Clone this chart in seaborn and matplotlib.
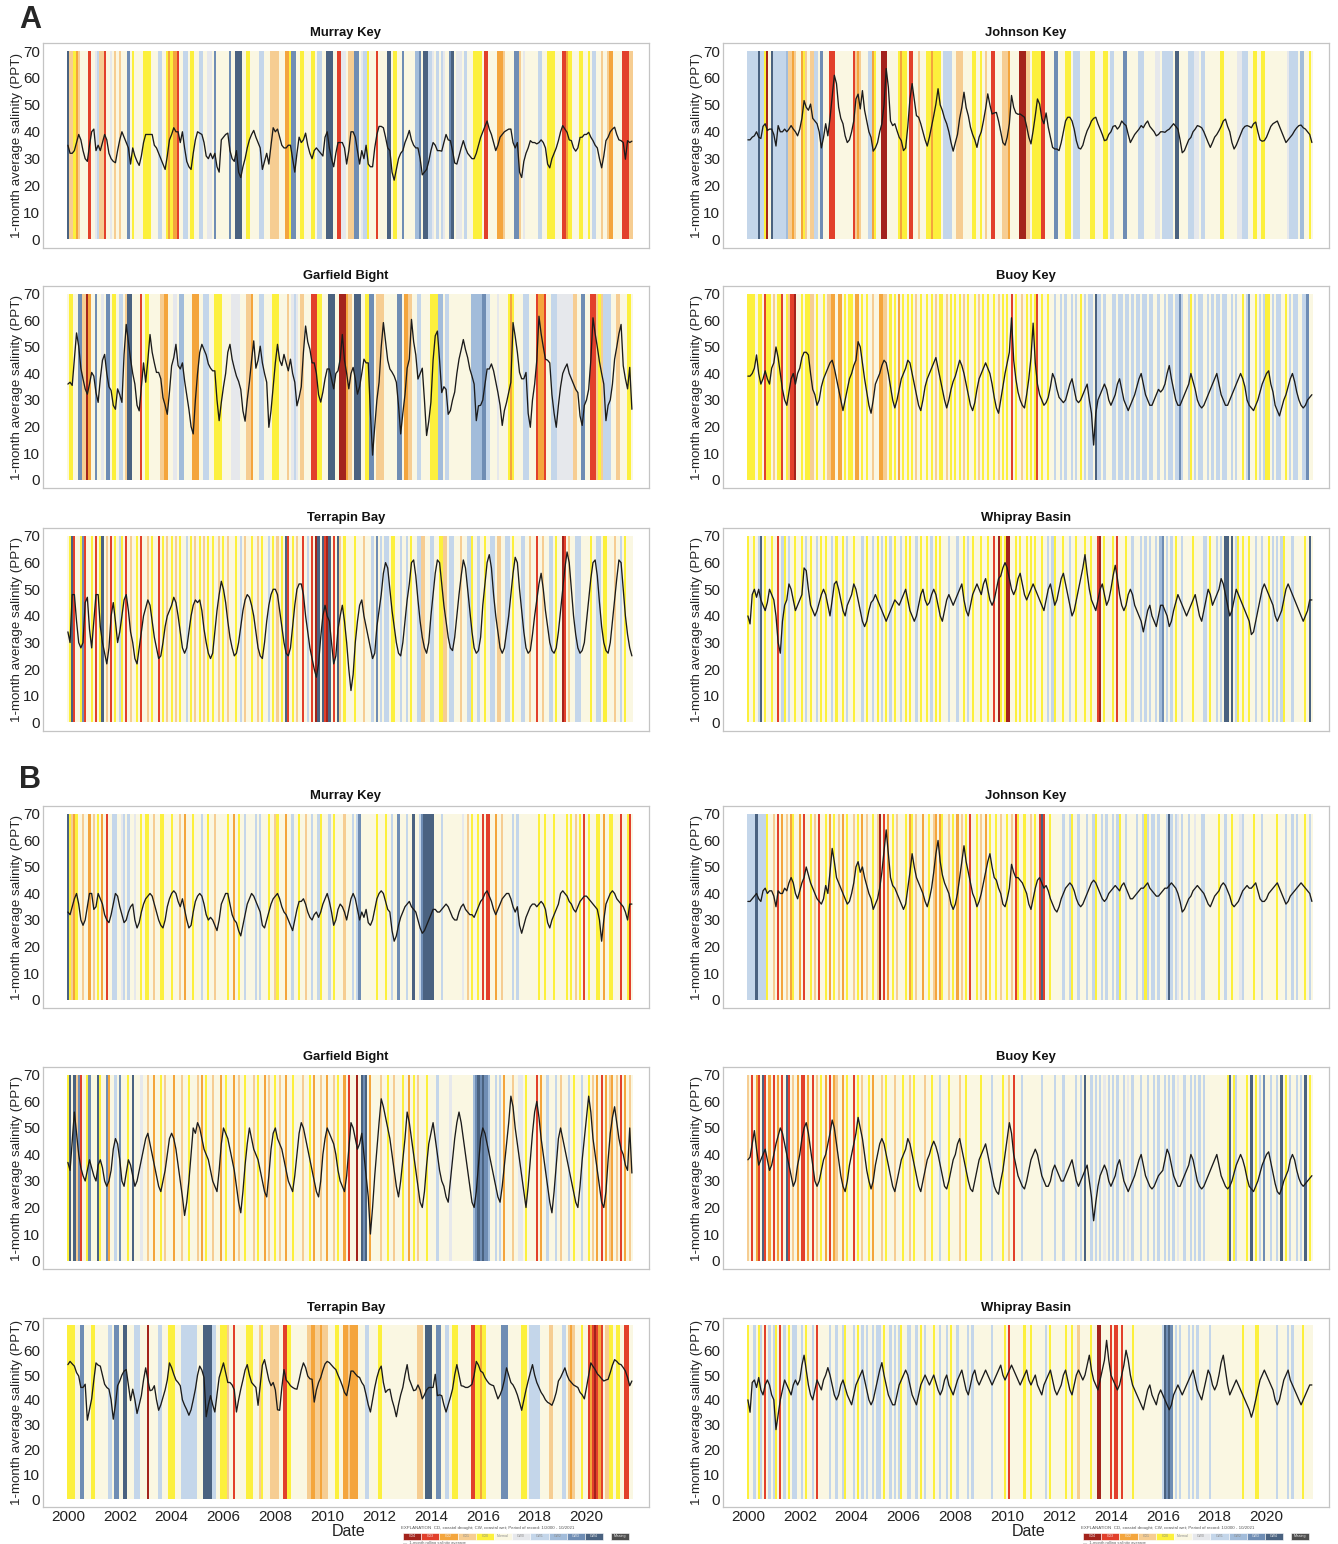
import numpy as np
import pandas as pd
import matplotlib
matplotlib.use("Agg")
import matplotlib.pyplot as plt
from matplotlib.patches import Rectangle
import seaborn as sns

sns.set_theme(style="white")
plt.rcParams["font.family"] = ["Liberation Sans", "DejaVu Sans"]

W, H, DPI = 1338, 1544, 100

# Monthly record, January 2000 through October 2021
months = pd.date_range("2000-01-01", "2021-10-01", freq="MS")
t_dec = (months.year + (months.month - 1) / 12.0).to_numpy()
N = len(months)

# Coastal drought / wet index classes
cat_codes = ["4", "3", "2", "1", "0", "n", "w", "a", "b", "c", "d", "m"]
cat_labels = ["CD4", "CD3", "CD2", "CD1", "CD0", "Normal", "CW0", "CW1", "CW2", "CW3", "CW4", "Missing"]
cat_colors = ["#A3231C", "#E2402B", "#F4A53C", "#F6CD92", "#FCF03C", "#FAF7E2",
              "#E6E8EC", "#C4D6EA", "#A2BCDA", "#6F8DB4", "#4A6280", "#4D4D4D"]

# ---------------- Panel A ----------------
murray_a_sal = [
    35, 32, 32, 33, 36, 39, 37, 33, 30, 29, 35, 40,
    41, 33, 35, 33, 36, 39, 37, 32, 30, 29, 28.5, 33,
    37, 40, 38, 36, 34, 28, 34, 31, 29, 27.5, 31, 36,
    39, 39, 39, 39, 35, 34, 32, 30, 28, 26, 31, 37,
    39, 41.5, 40, 40, 36, 40, 34, 29, 27, 26, 32, 37,
    40, 39.5, 39, 36, 31, 30, 32, 30, 32, 27, 25, 37,
    38, 39, 39.5, 33, 30, 29, 33, 25, 23, 27, 30, 34,
    37, 39, 40.5, 38, 36, 34, 26, 29, 32, 28, 35, 41.5,
    40, 41, 38, 35, 34, 34, 35, 35, 30, 25, 32, 38,
    36, 37, 39.5, 35, 32, 30, 33, 34, 33, 32, 31, 38,
    40, 34, 30, 27, 32, 36, 36, 36, 34, 28, 33, 40,
    40, 38, 33, 28, 33, 30, 35, 28, 27, 27, 34, 39,
    42, 42, 41.5, 38, 34, 33, 25, 22, 26, 30, 32, 33,
    36, 38, 40.5, 37, 35, 34, 34, 30, 24, 25, 26, 29,
    33, 36, 35, 33, 33, 32.8, 36, 39, 37, 36.7, 33, 28.4,
    28, 31, 34, 36.7, 34, 32, 31, 30, 30, 32, 35, 37.9,
    40, 42, 44, 41, 39, 36, 33, 35, 38, 39, 40, 40.5,
    41, 41, 36, 34, 36, 25, 23, 29, 32, 34, 36.7, 36,
    36, 35.5, 36, 37, 36, 34, 28, 26.6, 30, 32, 34, 36.7,
    40, 42.3, 41, 39.8, 37, 36.7, 34, 32.8, 34, 37.9, 38, 39,
    39, 39.8, 38, 36.7, 35, 34, 30, 26.6, 31, 36.7, 38, 40,
    41, 41.7, 39, 37, 36.7, 36, 29.8, 36.7, 36, 36.5,
]
murray_a_cat = """
d11021nnnn3n nwa113nnwn1n 1nnncn0nnnn0 000nnnaann02 0223nnaan00n naannwwncnnn
nnncnndddnn0 0nnnnaannn11 11nnn220ccnn 00nnn00naann dddnn33wwn11 1ccnwaa0nnn3
nnnnddn00nnc nnnnnbbcndda awnanawnncdn wwwnannn0000 n33nnnn2221n nnncc1nwnnnn
nnaann0000nn n33200nnn00n n0naann1nn12 2nnnn33311
"""

johnson_a_sal = [
    37, 37, 38, 38.5, 40, 38, 37.5, 42, 43, 40.5, 41, 41,
    39, 34.7, 42.3, 40, 40, 41, 40, 41, 42.3, 41, 40, 38.5,
    41, 45, 51.6, 49.1, 48, 50.3, 45, 44, 43, 40, 34, 37.9,
    43, 38.5, 45, 52.8, 61, 57.9, 49.1, 45, 43, 38.5, 36, 37,
    40, 44, 52.2, 54, 48.5, 55.3, 48, 44, 40, 37.9, 32.8, 34,
    36, 40, 43, 50, 63.5, 56.6, 44, 42.3, 43, 40.4, 38, 36.7,
    33, 34, 42, 52.2, 57.9, 52, 46, 45.4, 43, 40, 37, 34.7,
    38, 42, 46, 50.3, 56, 50, 47.9, 45, 43, 40, 36, 32.8,
    36, 39, 45, 49.1, 54.7, 49, 46, 41.7, 39, 37, 34.2, 38,
    40, 44, 48.5, 54.1, 50, 46.6, 47, 47.2, 44, 40, 36, 35,
    38, 43, 53.5, 49.1, 47, 46.5, 46.6, 46, 45.4, 42, 38, 35.5,
    40.4, 46, 52.2, 50.3, 45, 43, 47, 41.7, 38, 34.2, 33.6, 33.6,
    33, 36, 40, 44, 45.4, 45.4, 44, 41, 36.7, 34, 33.6, 35,
    38, 40.4, 42, 44, 45, 45.4, 43, 41, 39, 36.7, 37, 39,
    40, 42, 42.3, 41, 42, 44, 43, 42.3, 39, 36, 37.5, 39,
    40, 41, 42.3, 41.5, 43, 44, 42, 41, 40, 38.5, 39, 40,
    40, 39.8, 40.5, 41, 42, 43, 42, 41, 37, 32.2, 33, 35,
    37, 37.9, 40, 41, 42.3, 42, 41.5, 40, 38, 36, 34.2, 36,
    38, 39, 40.4, 42, 44, 44.7, 42, 40, 36, 33.6, 35, 37,
    39, 41, 42, 42.3, 42, 41.5, 43, 43.6, 40, 37, 36.5, 36.7,
    38, 40, 42, 43, 43.5, 44, 42, 40, 38, 36, 37, 38,
    39, 40.4, 41.5, 42.3, 42.5, 41.5, 41, 40, 39, 36,
]
johnson_a_cat = """
aaaaadaa04nd aaaaaab1121n n201n11aancn nn333nnnnnnn n3121nnnaa20 nn444nnnnn02
00n33nn1nnn0 020000naaaan n111nnnn00nn 0n1nn33nnn11 12nnnn44411n 000033nnnncc
nnn000naaann nnn00nnnn00n aannnnccnnnn naaannnnnwwn aaaaanddnnnn aaawwnaannnn
nnn00nnnnnnw waaann00nn00 nnnnnnnnnnwa aaanbbnn0n
"""

garfield_a_sal = [
    36, 36.7, 35.5, 45.4, 55.3, 50.3, 42, 37.9, 34.2, 32.2, 36, 40.4,
    39, 32.8, 29.1, 38, 45, 47.2, 40, 35, 33.6, 28, 26.5, 34.2,
    32, 29.1, 47.2, 58.5, 52, 45.4, 40, 36, 28, 25.9, 35, 44,
    36.7, 45, 54.7, 48, 44, 40.4, 40.4, 38, 30.9, 28, 24.6, 33,
    42.9, 46, 51, 43, 41.7, 44, 37.3, 32, 26.5, 20, 17.2, 30,
    40, 47.9, 51, 49, 47, 43.6, 42, 41, 41, 30, 22.2, 29.1,
    35, 40, 48, 51, 45.4, 42, 39, 37, 34, 25.9, 22, 30,
    36.7, 45, 52.3, 42, 45, 50.3, 44, 40, 36.7, 19.7, 26, 35,
    44, 51, 45, 43, 47.2, 44, 41, 45.4, 40, 36.7, 27.8, 31,
    35, 48, 57.9, 52, 49.1, 44, 44, 40, 32, 29.2, 33, 38,
    41.7, 41.7, 38, 34.2, 40, 41, 45.4, 54.7, 45, 40, 34.2, 40,
    42.3, 38, 32.2, 35, 40, 45.4, 44, 44, 25, 9.2, 20, 30,
    36.7, 50, 59.2, 52, 45, 41.7, 40.5, 39, 36.7, 28, 17.2, 25,
    32, 42, 45.4, 60.4, 52, 47, 37.9, 40, 42, 30, 16.6, 22,
    29.2, 45, 54.2, 56, 45, 32.8, 35, 34, 24.6, 26, 30, 33,
    40, 45.4, 49, 52.8, 49, 46, 41.7, 39, 36, 22.2, 27.8, 28,
    30, 36, 41.7, 41.7, 43.6, 41, 37, 32.8, 28, 20.4, 26, 29.1,
    33, 36.7, 59.2, 54, 48, 40.4, 38, 38, 40.4, 25, 19.7, 30,
    36, 45, 61.6, 55, 50, 45.4, 45, 44, 32, 25, 19.7, 28,
    35, 40, 42, 43.6, 40, 38, 36, 34, 32.8, 24, 20.4, 28,
    30, 34, 45, 61, 55, 50, 44.4, 40, 36, 22.2, 28, 30,
    36, 45.4, 50, 55, 58.5, 42.9, 38, 34.2, 42.3, 26.5,
]
garfield_a_cat = """
n00nncc1142n ncnnwnccn00n aan1ddnnnn3n 00nnnnn1122n nwwnbbnnnn22 2nnaaann0000
nnnnwwwwnnn1 12nnnaannnn0 00nnnn1nwawn 11nnn33300nn ndddnn444211 ndddnn00ccn1
111nnnnnnccn 2211nnaannnn 0000bbnaannn nnnnnnnbbbbb ccaannnwnnnn 020nnnnaaann
n32223nnaaaw wwwwww11nncc nn333101aaaa nn11nnn00n
"""

buoy_a_sal = [
    39, 39, 40, 42, 47, 40, 36, 38, 41, 38, 36, 42,
    44, 50, 46, 40, 34, 30, 28, 33, 38, 40, 36, 40,
    42, 46, 48, 48, 47, 40, 34, 32, 28, 30, 35, 38,
    40, 42, 44, 45, 42, 38, 34, 30, 26, 30, 34, 38,
    40, 43, 45, 52, 50, 44, 38, 33, 28, 25, 30, 36,
    38, 40, 43, 45, 44, 40, 35, 30, 27, 30, 34, 38,
    40, 42, 45, 44, 40, 36, 32, 28, 26, 30, 35, 38,
    40, 42, 44, 46, 42, 38, 34, 30, 27, 30, 34, 37,
    39, 42, 45, 43, 40, 36, 32, 28, 26, 29, 34, 38,
    40, 42, 44, 42, 40, 36, 31, 27, 25, 30, 35, 40,
    44, 48, 61, 45, 38, 33, 30, 28, 27, 32, 38, 46,
    59, 44, 36, 32, 30, 28, 29, 31, 35, 40, 38, 34,
    31, 30, 29, 30, 33, 36, 38, 34, 30, 29, 30, 32,
    34, 36, 30, 25, 13, 25, 30, 32, 34, 36, 34, 30,
    28, 30, 32, 36, 38, 34, 30, 28, 26, 28, 30, 32,
    35, 38, 40, 36, 32, 30, 28, 28, 30, 32, 34, 33,
    34, 36, 40, 43, 38, 34, 30, 28, 28, 30, 32, 34,
    36, 40, 37, 34, 30, 28, 27, 28, 30, 32, 34, 36,
    38, 40, 36, 32, 30, 28, 28, 30, 32, 34, 36, 38,
    40, 38, 35, 30, 28, 27, 26, 28, 30, 33, 36, 38,
    40, 41, 36, 33, 28, 26, 24, 27, 30, 32, 35, 38,
    40, 37, 33, 30, 28, 27, 28, 30, 31, 32,
]
buoy_a_cat = """
0000n00n300n 1n003n01334n n0n0011n0nn0 n1122n22n0n0 0n22n0n0nn1n n2211n0n0n2n
0n0n0n1n0nn0 n0n1n00n1n0n 0n0n1n0nn0n1 n0n0nn0n1n0n 0n3n0nn1n0n0 n03n0nn0nnan
nanannanan0n anaandaanann naanaanaanan aanaanaannan nanaanaacann a0nanaannana
naanaannanan n0nacnn0nana 00nanaann0na naannaacnn
"""

terrapin_a_sal = [
    34, 30, 48, 48, 38, 30, 28, 30, 45, 47, 35, 28,
    38, 48, 48, 36, 30, 26, 22, 28, 40, 45, 38, 30,
    34, 40, 46, 48, 42, 34, 30, 24, 22, 28, 34, 40,
    43, 46, 44, 38, 32, 28, 24, 25, 30, 36, 40, 42,
    44, 47, 45, 40, 34, 28, 26, 28, 34, 40, 44, 46,
    45, 46, 42, 35, 30, 26, 24, 26, 34, 42, 48, 53,
    50, 45, 38, 32, 28, 25, 26, 30, 36, 42, 46, 48,
    47, 44, 40, 34, 28, 25, 24, 30, 38, 44, 48, 50,
    50, 48, 42, 36, 30, 26, 25, 28, 36, 44, 50, 52,
    52, 48, 40, 34, 28, 24, 20, 17, 22, 32, 40, 44,
    40, 38, 30, 22, 25, 35, 40, 44, 38, 30, 20, 12,
    18, 30, 38, 44, 46, 40, 36, 32, 28, 24, 26, 36,
    42, 48, 56, 60, 58, 50, 42, 36, 30, 26, 25, 30,
    38, 46, 52, 60, 61, 55, 46, 38, 32, 28, 26, 30,
    40, 48, 56, 61, 60, 52, 44, 38, 32, 28, 27, 32,
    40, 48, 55, 61, 58, 50, 42, 34, 28, 26, 27, 32,
    44, 52, 60, 63, 58, 48, 40, 34, 28, 26, 28, 34,
    40, 48, 56, 62, 60, 50, 42, 34, 28, 26, 27, 33,
    40, 46, 52, 56, 50, 42, 36, 30, 27, 26, 28, 34,
    42, 50, 58, 64, 60, 50, 40, 33, 28, 26, 27, 30,
    38, 46, 54, 60, 61, 55, 45, 36, 30, 27, 26, 30,
    38, 46, 54, 61, 60, 50, 40, 33, 28, 25,
]
terrapin_a_cat = """
n0d3nn0c3nn0 n3n0dn1n3n0n a0n3n1nn0n3n n1n0nn3n0n1n 0n1n0nnan0n1 n0n1n0n0nn1n
0n1nnn0nan1n n0nn1n0nnan0 n1n0nd3n0n1n n3nan3n4dnd3 4dn3nd1n0nnn n0nnn1nnnanc
nanaan00nnan nan0nnaa11nn aann0011naan nn1nnaa0nnan n0nnaan11nna an0nnnaann1n
n3nn1nnaan0n n43n1nnaaann nn0nnaan00nn n1nnan0nnn
"""

whipray_a_sal = [
    40, 37, 48, 50, 47, 50, 46, 44, 42, 45, 50, 48,
    46, 40, 30, 26, 38, 44, 46, 52, 50, 46, 42, 44,
    46, 48, 58, 57, 50, 44, 42, 40, 42, 45, 48, 50,
    48, 44, 40, 46, 52, 53, 50, 46, 42, 40, 44, 46,
    48, 52, 50, 46, 42, 38, 36, 38, 42, 45, 46, 48,
    46, 44, 42, 40, 38, 40, 42, 44, 46, 45, 44, 46,
    48, 50, 46, 42, 40, 38, 40, 44, 48, 50, 46, 44,
    45, 48, 50, 48, 44, 40, 38, 42, 46, 48, 46, 44,
    46, 48, 50, 52, 46, 42, 40, 44, 48, 50, 52, 50,
    48, 52, 54, 50, 46, 44, 46, 50, 54, 55, 58, 60,
    58, 54, 50, 48, 50, 54, 56, 52, 48, 46, 48, 50,
    52, 50, 48, 46, 44, 42, 46, 50, 52, 48, 44, 46,
    50, 54, 56, 52, 48, 44, 40, 42, 46, 50, 54, 58,
    63, 56, 50, 46, 44, 42, 46, 50, 52, 48, 44, 46,
    50, 55, 59, 54, 48, 44, 42, 44, 48, 50, 48, 44,
    42, 40, 38, 34, 38, 42, 44, 40, 38, 36, 40, 44,
    44, 42, 40, 36, 38, 42, 45, 48, 46, 44, 42, 40,
    42, 44, 46, 48, 44, 40, 38, 42, 46, 50, 48, 44,
    46, 48, 50, 54, 52, 48, 44, 40, 42, 46, 50, 48,
    46, 44, 42, 40, 38, 33, 34, 38, 42, 46, 50, 52,
    50, 48, 46, 44, 40, 38, 40, 42, 46, 50, 52, 50,
    48, 46, 44, 42, 40, 38, 40, 42, 46, 46,
]
whipray_a_cat = """
0nn0nadn0nn0 nn3na0nann0n n0nan0nnan0n 0nnan0nn0nan n0nnnan0nnan 0nan0nan0nna
n0n0nnan0nn0 nan0n0nnnann nann0nan0nnn 0nn0nn3n40n0 44nn0n0nn0n0 n0nn0nnana0n
nn0nnann0nnn 0nn0nn34n0nn n0n3nnn0nnan nnananannanb cnanan0nnann nn0nnnnaan0n
nananddndna0 n0nn0nnannan n0nanana0nnn annnnn0ndn
"""

# ---------------- Panel B ----------------
murray_b_sal = [
    33, 32, 35, 38, 40, 36, 30, 28, 30, 35, 40, 40,
    34, 35, 40, 38, 36, 32, 30, 29, 32, 36, 40, 39,
    35, 32, 29, 30, 33, 35, 36, 30, 27, 29, 33, 36,
    38, 39, 40, 39, 36, 33, 30, 28, 27, 30, 35, 38,
    40, 41, 40, 37, 35, 38, 34, 30, 27, 28, 33, 37,
    39, 40, 39, 36, 32, 30, 31, 30, 28, 26, 30, 36,
    38, 40, 40, 36, 32, 30, 29, 26, 24, 28, 32, 36,
    38, 40, 39, 37, 35, 33, 28, 27, 30, 33, 36, 38,
    39, 40, 38, 35, 33, 32, 30, 28, 26, 30, 34, 37,
    37, 38, 36, 33, 31, 30, 32, 33, 31, 33, 36, 38,
    40, 37, 33, 28, 30, 34, 36, 35, 33, 30, 34, 38,
    40, 38, 34, 30, 33, 31, 34, 29, 28, 30, 34, 38,
    40, 41, 40, 37, 34, 33, 26, 22, 24, 28, 31, 33,
    35, 36, 37, 35, 34, 33, 30, 27, 25, 26, 28, 30,
    32, 34, 34, 33, 33, 34, 35, 36, 35, 33, 31, 30,
    30, 33, 35, 36, 34, 33, 32, 32, 31, 33, 35, 37,
    38, 40, 41, 39, 37, 34, 32, 34, 36, 38, 39, 40,
    40, 38, 35, 33, 35, 28, 25, 28, 31, 33, 35, 36,
    36, 35, 36, 37, 36, 34, 29, 27, 30, 32, 34, 36,
    40, 41, 40, 39, 37, 36, 34, 33, 35, 37, 38, 39,
    39, 38, 37, 36, 35, 34, 30, 22, 30, 36, 38, 40,
    41, 40, 38, 37, 36, 35, 33, 30, 36, 36,
]
murray_b_cat = """
d0120nn1nn2n 1n0n2n3nnaan nwanannwnn0n 00nn1nn00nnn 0nnn1n2nnn0n nnann0nn1nnn
nn0nn2n0nnan nnnanannn0nn 10nnn2nnann0 nn1nnanna0nn nan0nnnn1nnn anacnnnnnnn0
nnn0nnanncnn nanndnnacddd ddnnnannnnnn nnnwn1n0nn0n 3n33nn2nn1nn nnanannnnnnn
nn0nn0nnn0nn nnn0n0n1n0n3 n0nnn00n2nn0 0nnn3nn03n
"""

johnson_b_sal = [
    37, 37, 38, 39, 40, 38, 37, 41, 42, 40, 41, 41,
    39, 35, 41, 40, 40, 42, 41, 44, 46, 44, 40, 38,
    41, 44, 46, 50, 47, 44, 42, 40, 38, 37, 36, 38,
    43, 40, 48, 57, 52, 46, 44, 42, 40, 38, 36, 37,
    40, 44, 50, 52, 48, 50, 46, 43, 40, 38, 34, 36,
    38, 42, 48, 56, 64, 55, 46, 43, 42, 40, 38, 36,
    34, 36, 42, 48, 55, 50, 46, 44, 42, 40, 37, 35,
    38, 42, 48, 55, 60, 52, 47, 44, 42, 40, 36, 34,
    36, 40, 46, 52, 58, 52, 48, 44, 40, 38, 35, 37,
    40, 44, 48, 52, 55, 50, 46, 45, 42, 40, 36, 35,
    38, 42, 51, 48, 46, 46, 45, 44, 42, 40, 36, 34,
    38, 42, 45, 46, 44, 42, 43, 41, 38, 36, 34, 33,
    35, 38, 40, 42, 43, 44, 43, 41, 38, 36, 35, 36,
    38, 40, 42, 44, 45, 44, 42, 40, 38, 37, 38, 40,
    41, 42, 43, 42, 41, 43, 44, 42, 40, 38, 38, 39,
    40, 41, 42, 42, 43, 44, 42, 41, 40, 39, 39, 40,
    41, 42, 42, 43, 44, 43, 42, 40, 37, 33, 34, 36,
    38, 39, 41, 42, 43, 42, 41, 40, 38, 36, 35, 37,
    39, 40, 41, 43, 44, 43, 41, 39, 36, 35, 36, 37,
    39, 41, 42, 43, 42, 42, 43, 44, 41, 38, 37, 37,
    38, 40, 41, 42, 43, 44, 42, 40, 38, 36, 37, 39,
    40, 41, 42, 43, 44, 43, 42, 41, 40, 37,
]
johnson_b_cat = """
aaaadaaaa0nn 1n3n2n1n20nn 2n3nn0n1n3nn 0n2n0n1n2n0n n1n0n2n1nn0n 14n3n2n0n1nn
n0n20n1nn2nn 0n12n20nn1n0 n2n1n0n3nn0n 1n2n0nn0n1nn 0n1n30nn0nn1 n0n3d3nn0nnn
nnanna0nnann nanna0nnanan nana0nnannnn anna0anaanan nnadanawnann annwnnaannnn
nn0nnann0nnn wannnn0nnnan nnnnn0nnnann anannn0nan
"""

garfield_b_sal = [
    37, 34, 45, 56, 48, 40, 35, 32, 30, 34, 38, 35,
    32, 30, 36, 38, 35, 30, 28, 30, 34, 42, 46, 44,
    38, 30, 28, 33, 38, 36, 32, 28, 30, 34, 38, 42,
    46, 48, 44, 40, 36, 32, 28, 26, 30, 34, 40, 46,
    48, 46, 42, 36, 30, 24, 17, 22, 30, 40, 50, 48,
    52, 50, 46, 42, 40, 38, 34, 30, 28, 26, 34, 44,
    50, 48, 46, 42, 38, 34, 28, 22, 18, 26, 36, 44,
    50, 46, 42, 40, 38, 34, 30, 26, 24, 32, 42, 48,
    50, 46, 44, 42, 38, 34, 30, 28, 26, 32, 40, 48,
    52, 50, 46, 42, 38, 34, 30, 26, 24, 30, 40, 46,
    50, 48, 46, 44, 40, 34, 30, 28, 26, 32, 42, 52,
    50, 46, 42, 44, 48, 40, 32, 24, 10, 20, 32, 42,
    52, 61, 58, 54, 50, 46, 40, 34, 28, 24, 30, 38,
    46, 56, 52, 46, 40, 34, 28, 22, 20, 26, 36, 44,
    48, 52, 46, 40, 34, 30, 28, 24, 22, 30, 38, 46,
    52, 56, 52, 46, 40, 34, 28, 22, 20, 26, 36, 46,
    50, 48, 44, 40, 36, 32, 28, 24, 22, 28, 36, 44,
    52, 62, 58, 50, 44, 38, 32, 26, 20, 28, 38, 48,
    56, 60, 54, 46, 40, 34, 28, 22, 18, 26, 36, 46,
    50, 46, 42, 38, 34, 30, 26, 22, 20, 28, 38, 46,
    54, 62, 56, 46, 40, 34, 28, 22, 20, 26, 38, 48,
    54, 58, 52, 46, 42, 40, 36, 34, 50, 33,
]
garfield_b_cat = """
0dnd1c3nn0cn nnd0nnc2nnan cnnn0ndnnnwn n1nn2nn0n1nn n2nnn1nn0nnn 1n2n0nn1nnn2
n0nnn2n1nn0n nn1n0nn2n1nn 0n1nn2nn0nnn n1nn0n2nn1nn 2nn1n0nn2n3n nn4ndcdn2nnn
n1nn0nn1nnn0 nn2n0n1nnn0n nnnannnnnwnn nnnnnnnnbcdc dccbnnanan2n nn1nnwwn0nnn
n3n2nnannnan 1nnnan0nnnan n0n1n2n3n2n1 2n1n3n2n1n
"""

buoy_b_sal = [
    38, 39, 44, 49, 42, 36, 38, 40, 42, 38, 34, 36,
    40, 44, 47, 50, 48, 44, 40, 36, 32, 28, 30, 36,
    40, 46, 50, 52, 48, 42, 36, 30, 28, 30, 34, 38,
    40, 44, 48, 53, 50, 44, 38, 32, 28, 26, 30, 36,
    40, 44, 48, 54, 50, 46, 40, 34, 30, 27, 30, 36,
    40, 44, 46, 44, 40, 36, 32, 28, 26, 30, 34, 38,
    40, 42, 46, 44, 40, 36, 32, 28, 26, 30, 34, 38,
    40, 43, 45, 43, 40, 36, 32, 28, 27, 30, 34, 38,
    40, 44, 46, 42, 38, 34, 30, 27, 26, 30, 34, 38,
    40, 42, 44, 40, 36, 32, 28, 26, 25, 30, 34, 40,
    46, 52, 48, 40, 36, 32, 30, 28, 27, 30, 34, 38,
    40, 42, 40, 36, 32, 30, 28, 28, 30, 34, 36, 34,
    32, 30, 30, 32, 34, 36, 38, 34, 30, 28, 30, 32,
    34, 36, 30, 24, 15, 22, 28, 32, 34, 36, 34, 30,
    28, 30, 32, 36, 38, 34, 30, 28, 26, 28, 30, 32,
    35, 38, 40, 36, 32, 30, 28, 27, 28, 30, 32, 33,
    34, 38, 42, 40, 36, 32, 30, 28, 28, 30, 32, 34,
    36, 40, 38, 34, 30, 28, 27, 28, 30, 32, 34, 36,
    38, 40, 36, 32, 30, 28, 27, 28, 30, 33, 36, 38,
    40, 38, 35, 31, 28, 27, 26, 28, 30, 33, 36, 38,
    40, 41, 37, 33, 29, 26, 25, 27, 30, 32, 34, 38,
    40, 38, 34, 31, 29, 28, 29, 30, 31, 32,
]
buoy_b_cat = """
1n3n23nd3n2n 3n2n3nd3n1n2 n33n2n3n1n0n 2n3n21nn2n0n n3n0n1nn0n2n nn1n0nnn1nnn
0nn1n0nnnn1n n0nnnannn0nn nn1nn0nnnnnn 0nnnnannnn0n n1n3nnnannnn nnnnannnnnan
nnannnnnanan dnnanananwna nanannanwnan nnannannanan nanananwnnan nanananannnn
nnnnnn0dn0an nnn0ndn0nanc nnannandn0na nnanandn0n
"""

terrapin_b_sal = [
    54.2, 55.5, 54.5, 53.6, 51, 49.6, 45, 45, 46.3, 31.8, 36, 40.4,
    48, 54.9, 54, 53.6, 50, 46.3, 45, 44.3, 40, 32.2, 38, 45.7,
    47.6, 50, 51.6, 52.2, 46, 39.7, 44.3, 40, 34.5, 38, 41.7, 48,
    52.9, 48, 43.7, 44, 45.7, 40, 35.8, 38, 41, 44, 48, 54.9,
    53, 50.3, 48, 47, 45.7, 40, 37.8, 36, 33.8, 36, 40, 44.3,
    50, 53.6, 52, 49, 33.2, 38, 41.7, 38, 35.1, 42, 49, 52,
    54.9, 51, 47, 47, 46, 44, 35.1, 40, 44.3, 48, 52, 54.2,
    50, 47, 46, 45, 37.8, 46, 54, 56.2, 52, 48, 45.7, 47,
    44, 36, 35.8, 45, 52.2, 48, 47, 45.7, 45, 44.5, 44.3, 48,
    52, 54.9, 53, 49.6, 48.5, 48.3, 39.1, 44, 47, 49, 52, 54.5,
    55.5, 55, 54, 53, 52.2, 50, 48, 45.7, 43, 41.7, 46, 51.6,
    51.6, 50.5, 49.5, 49, 47, 45.7, 42, 38, 35.1, 40, 45, 49,
    52, 53.6, 47, 43, 44, 44.3, 40, 37, 33.2, 38, 42, 45,
    50, 54.2, 48.3, 46, 43.7, 44, 46, 44, 40.4, 42, 44, 45,
    45, 45, 50.3, 41.7, 42, 41.7, 38, 35.1, 38, 41, 44.3, 50,
    54.2, 50, 45.7, 45.5, 45, 45, 45.5, 46.3, 50, 55.5, 54, 51.6,
    51, 49, 47.6, 46.5, 46, 45.7, 43, 40.4, 42, 44.3, 48, 52.9,
    50, 47, 46, 44.3, 42, 39, 35.8, 40, 44, 47.6, 51, 54.2,
    50, 47, 45, 43, 41.7, 40, 39, 38.5, 37.8, 40, 43, 47.6,
    49, 51, 52.9, 50, 48, 47, 46, 45.5, 45, 43, 42, 40.4,
    45, 50, 54.9, 53.5, 52.2, 50.5, 49.6, 48.5, 47.6, 48, 48.3, 51,
    54, 56.2, 55.5, 54.5, 54.2, 53, 51.6, 49, 45.7, 47.6,
]
terrapin_b_cat = """
0000nnccnnn0 0nnnnnnaancc nnddnnnaaann n4nnnnaannn0 00nnnaaaaaaa nnnddddaann0
001nn3nnnnn0 00nnn10nnn11 11nn3300nnnn nnn112211211 1nnn00nn2212 222nnnaannnn
00nnnnnnnnnn nnnnnn111ndd dnnccnnaan00 0nnnnnn33002 00nnnnnnnccc nnnnnn000naa
aaannnn11nnn naan121nnn0n n3234323n110 0n00nn33nn
"""

whipray_b_sal = [
    40, 35, 47, 48, 45, 49, 44, 42, 46, 48, 46, 42,
    40, 28, 34, 40, 44, 48, 46, 44, 42, 46, 48, 46,
    48, 54, 58, 52, 46, 42, 40, 44, 48, 46, 44, 48,
    50, 53, 50, 46, 42, 40, 42, 46, 48, 45, 42, 40,
    38, 42, 46, 48, 50, 52, 48, 44, 40, 38, 40, 44,
    48, 52, 55, 50, 46, 42, 40, 38, 38, 42, 46, 48,
    50, 52, 50, 46, 42, 40, 38, 42, 46, 48, 50, 48,
    46, 48, 50, 47, 44, 42, 44, 48, 50, 46, 44, 42,
    45, 48, 50, 52, 48, 44, 42, 46, 50, 52, 48, 46,
    48, 50, 52, 50, 48, 46, 48, 50, 52, 54, 50, 48,
    50, 52, 54, 52, 50, 48, 46, 48, 50, 52, 48, 46,
    48, 50, 46, 44, 42, 46, 48, 50, 52, 48, 44, 42,
    44, 46, 50, 52, 48, 44, 42, 46, 50, 52, 50, 48,
    50, 54, 58, 52, 48, 46, 44, 48, 52, 56, 64, 56,
    50, 48, 46, 44, 46, 50, 54, 60, 56, 50, 46, 44,
    42, 40, 38, 36, 40, 44, 46, 42, 40, 38, 42, 44,
    42, 40, 38, 36, 38, 42, 44, 46, 44, 42, 44, 46,
    48, 50, 52, 48, 44, 42, 40, 44, 48, 52, 50, 46,
    44, 46, 50, 55, 58, 52, 46, 42, 44, 46, 48, 46,
    44, 42, 40, 38, 36, 33, 36, 40, 44, 48, 50, 52,
    50, 48, 46, 44, 40, 38, 40, 44, 48, 50, 52, 48,
    46, 44, 42, 40, 38, 40, 42, 44, 46, 46,
]
whipray_b_cat = """
0nnan0an3nan a0n3nan0naan nan0nnan3nnn nnannanna0nn nan0nanannan aan0nnanana0
nnaannan0nan nn0nnannan0n nannnnanannn nnnnnannnnn0 n3nnnnnn0nn0 nnnnnnan0nnn
nnn0nn0nn1nn nnn0nn44nnnn 3n33n3nnnn0n nnnnnnnnnnnn adcdcnanannn ananannnnnan
nnnnnnnnnnnn n0nnnnn00nnn nnnnnannnnan annnn0nnnn
"""

panels = [
    # (column, row, title, salinity, classes)
    (0, 0, "Murray Key", murray_a_sal, murray_a_cat),
    (1, 0, "Johnson Key", johnson_a_sal, johnson_a_cat),
    (0, 1, "Garfield Bight", garfield_a_sal, garfield_a_cat),
    (1, 1, "Buoy Key", buoy_a_sal, buoy_a_cat),
    (0, 2, "Terrapin Bay", terrapin_a_sal, terrapin_a_cat),
    (1, 2, "Whipray Basin", whipray_a_sal, whipray_a_cat),
    (0, 3, "Murray Key", murray_b_sal, murray_b_cat),
    (1, 3, "Johnson Key", johnson_b_sal, johnson_b_cat),
    (0, 4, "Garfield Bight", garfield_b_sal, garfield_b_cat),
    (1, 4, "Buoy Key", buoy_b_sal, buoy_b_cat),
    (0, 5, "Terrapin Bay", terrapin_b_sal, terrapin_b_cat),
    (1, 5, "Whipray Basin", whipray_b_sal, whipray_b_cat),
]

# ---------------- layout (pixel boxes) ----------------
col_x = [43, 723]
col_w = 606
row_tb = [(43, 248), (286, 488), (528, 731), (806, 1008), (1067, 1269), (1318, 1507)]
palette = dict(zip(cat_codes, cat_colors))
spine_col = "#C4C4C4"

fig = plt.figure(figsize=(W / DPI, H / DPI), dpi=DPI)


def px_rect(x, top, w, bottom):
    return [x / W, 1 - bottom / H, w / W, (bottom - top) / H]


def draw_panel(ax, title, sal, cats, show_labels):
    cats = "".join(cats.split())[:N].ljust(N, "n")
    n_s = min(len(sal), N)
    df = pd.DataFrame({"t": t_dec, "top": 70.0, "cls": list(cats)})
    sns.barplot(data=df, x="t", y="top", hue="cls", hue_order=cat_codes,
                palette=palette, native_scale=True, dodge=False, width=1.06,
                errorbar=None, saturation=1, linewidth=0, legend=False, ax=ax)
    sns.lineplot(x=t_dec[:n_s], y=np.asarray(sal[:n_s], dtype=float),
                 color="#1b1b1b", linewidth=0.95, ax=ax)
    ax.set_xlim(1999.04, 2022.41)
    ax.set_ylim(-3.2, 73)
    ax.set_yticks(range(0, 71, 10))
    ax.set_xticks(range(2000, 2021, 2))
    ax.set_xticks(range(2001, 2022, 2), minor=True)
    ax.set_xlabel("")
    ax.set_ylabel("1-month average salinity (PPT)", fontsize=9.6, labelpad=0.5, color="#222222")
    ax.set_title(title, fontsize=9.4, fontweight="bold", pad=5, color="#111111")
    ax.tick_params(axis="y", length=0, pad=2, labelsize=11, labelcolor="#222222")
    if show_labels:
        ax.tick_params(axis="x", which="both", direction="out", length=2, width=0.8,
                       color="#9A9A9A", pad=0.5, labelsize=11, labelcolor="#222222")
        ax.set_xticklabels([str(y) for y in range(2000, 2021, 2)])
    else:
        ax.tick_params(axis="x", which="both", direction="out", length=4, width=0.8,
                       color="#9A9A9A", pad=2, labelsize=11)
        ax.set_xticklabels([])
    for sp in ax.spines.values():
        sp.set_color(spine_col)
        sp.set_linewidth(0.9)
    ax.grid(False)


for col, row, title, sal, cats in panels:
    top, bottom = row_tb[row]
    ax = fig.add_axes(px_rect(col_x[col], top, col_w, bottom))
    draw_panel(ax, title, sal, cats, show_labels=(row == 5))

# panel letters
fig.text(30 / W, 1 - 20 / H, "A", fontsize=22, fontweight="bold", ha="center", va="center")
fig.text(30 / W, 1 - 780 / H, "B", fontsize=22, fontweight="bold", ha="center", va="center")

# axis titles below the bottom row
for cx in (349, 1029):
    fig.text(cx / W, 1 - 1532 / H, "Date", fontsize=11.5, ha="center", va="center", color="#222222")


def draw_key(x0):
    kax = fig.add_axes([x0 / W, 0.0, 250 / W, 24 / H])
    kax.set_xlim(0, 250)
    kax.set_ylim(24, 0)
    kax.axis("off")
    kax.text(6, 8.5, "EXPLANATION  CD, coastal drought; CW, coastal wet; Period of record: 1/2000 - 10/2021",
             fontsize=3.2, va="center", ha="left", color="#555555")
    bw = 18.2
    for i in range(11):
        kax.add_patch(Rectangle((8 + i * bw, 12.5), bw, 7.5, facecolor=cat_colors[i],
                                edgecolor="white", linewidth=0.4))
        light = i in (3, 4, 5, 6, 7, 8)
        kax.text(8 + i * bw + bw / 2, 16.3, cat_labels[i], fontsize=2.6, ha="center", va="center",
                 color="#8a8a8a" if light else "#f0f0f0")
    kax.add_patch(Rectangle((216, 12.5), 18, 7.5, facecolor=cat_colors[11], edgecolor="white", linewidth=0.4))
    kax.text(225, 16.3, "Missing", fontsize=2.6, ha="center", va="center", color="#eeeeee")
    kax.text(8, 23.2, "—  1-month rolling salinity average", fontsize=3.0, va="center", ha="left",
             color="#666666")


draw_key(395)
draw_key(1075)

fig.savefig("out.png", dpi=DPI)
